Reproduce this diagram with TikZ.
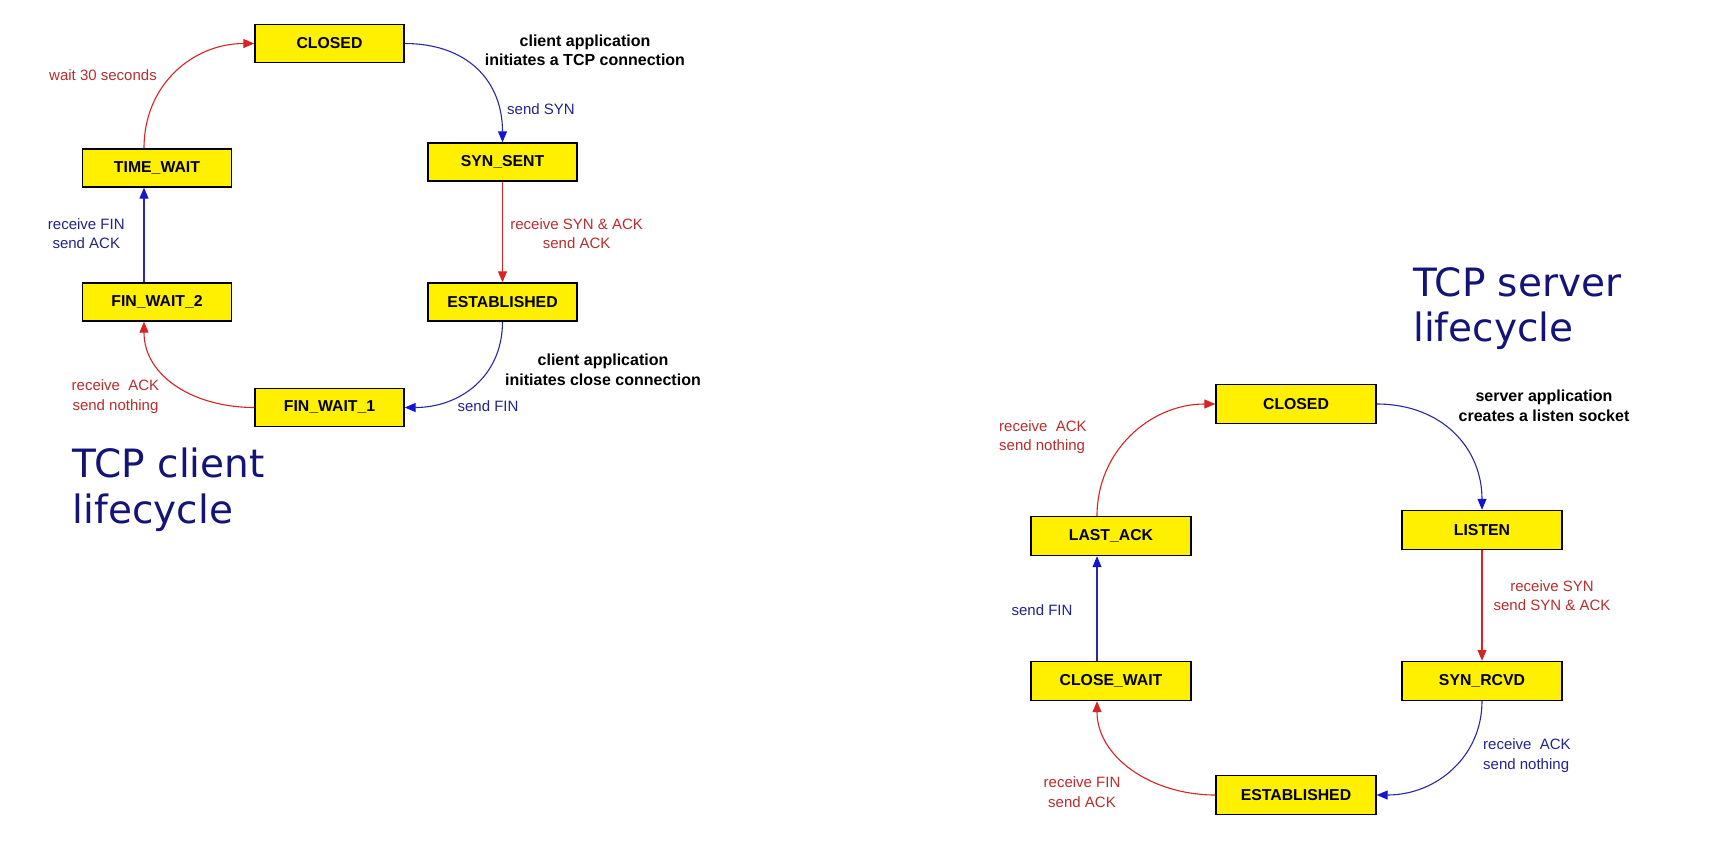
\documentclass[tikz,border=0pt]{standalone}
\usepackage{fontspec}
\setmainfont{Liberation Sans}
\newfontfamily\titlefont{DejaVu Sans}
\usetikzlibrary{arrows.meta,calc}

\definecolor{stateyellow}{RGB}{255,240,0}
\definecolor{arrowred}{RGB}{215,35,35}
\definecolor{arrowblue}{RGB}{40,40,165}
\definecolor{tipblue}{RGB}{20,20,210}
\definecolor{labelred}{RGB}{185,45,45}
\definecolor{labelblue}{RGB}{35,35,140}
\definecolor{titleblue}{RGB}{20,20,120}

\tikzset{
  state/.style={draw=black, line width=1.4pt, fill=stateyellow,
    minimum width=149pt, minimum height=38pt, inner sep=0pt,
    font=\fontsize{15.8}{18}\selectfont\bfseries},
  sstate/.style={state, minimum width=160pt, minimum height=39pt},
  redarrow/.style={draw=arrowred, line width=1.1pt,
    -{Triangle[length=11pt,width=9pt,color=arrowred]}},
  bluearrow/.style={draw=arrowblue, line width=1.1pt,
    -{Triangle[length=11pt,width=9pt,color=tipblue]}},
  lbl/.style={font=\fontsize{15}{19.5}\selectfont, align=center, inner sep=0pt},
  redlbl/.style={lbl, text=labelred},
  bluelbl/.style={lbl, text=labelblue},
  note/.style={font=\fontsize{16}{19.7}\selectfont\bfseries, align=center,
    inner sep=0pt, text=black},
  heading/.style={font=\titlefont\fontsize{39}{45}\selectfont, text=titleblue,
    inner sep=0pt, anchor=base west}
}

\begin{document}
\begin{tikzpicture}[x=1pt,y=-1pt]
\useasboundingbox[fill=white] (0,0) rectangle (1717,841);

% ---------------- TCP client ----------------
\node[state] (c-closed)  at (329.5,43.5) {CLOSED};
\node[state] (c-synsent) at (502.5,162)  {SYN\_SENT};
\node[state] (c-est)     at (502.5,302)  {ESTABLISHED};
\node[state] (c-fw1)     at (329.5,407.5){FIN\_WAIT\_1};
\node[state] (c-fw2)     at (157,302)    {FIN\_WAIT\_2};
\node[state] (c-tw)      at (157,168)    {TIME\_WAIT};

\coordinate (c-fw2-top) at ($(c-fw2.north)+(-13,0)$);
\coordinate (c-fw2-bot) at ($(c-fw2.south)+(-13,0)$);
\coordinate (c-tw-top)  at ($(c-tw.north)+(-13,0)$);
\coordinate (c-tw-bot)  at ($(c-tw.south)+(-13,0)$);

\draw[bluearrow] (c-closed.east) .. controls +(62,0) and +(0,-62) .. (c-synsent.north);
\draw[redarrow]  (c-synsent.south) -- (c-est.north);
\draw[bluearrow] (c-est.south) .. controls +(0,55) and +(55,0) .. (c-fw1.east);
\draw[redarrow]  (c-fw1.west) .. controls +(-60,0) and +(0,55) .. (c-fw2-bot);
\draw[bluearrow] (c-fw2-top) -- (c-tw-bot);
\draw[redarrow]  (c-tw-top) .. controls +(0,-65) and +(-60,0) .. (c-closed.west);

\node[note] (c-note1) at (585,50.4) {client application\\initiates a TCP connection};
\node[note] (c-note2) at (603,369.6) {client application\\initiates close connection};

\node[redlbl]  (c-l1) at (103,75.6) {wait 30 seconds};
\node[bluelbl, anchor=west] (c-l2) at (507,109.5) {send SYN};
\node[redlbl]  (c-l3) at (576.6,233.8) {receive SYN \& ACK\\send ACK};
\node[bluelbl] (c-l4) at (86.3,233.8) {receive FIN\\send ACK};
\node[redlbl]  (c-l5) at (115.5,396.5) {receive\ \ ACK\\send nothing};
\node[bluelbl] (c-l6) at (488,406.3) {send FIN};

\node[heading] (c-title1) at (72.7,477.7) {TCP client};
\node[heading] (c-title2) at (72.7,523.3) {lifecycle};

% ---------------- TCP server ----------------
\node[sstate] (s-closed) at (1296,404) {CLOSED};
\node[sstate] (s-listen) at (1482,530) {LISTEN};
\node[sstate] (s-synrcvd) at (1482,681) {SYN\_RCVD};
\node[sstate] (s-est)    at (1296,795) {ESTABLISHED};
\node[sstate] (s-cw)     at (1111,681) {CLOSE\_WAIT};
\node[sstate] (s-la)     at (1111,536) {LAST\_ACK};

\coordinate (s-cw-top) at ($(s-cw.north)+(-14,0)$);
\coordinate (s-cw-bot) at ($(s-cw.south)+(-14,0)$);
\coordinate (s-la-top) at ($(s-la.north)+(-14,0)$);
\coordinate (s-la-bot) at ($(s-la.south)+(-14,0)$);

\draw[bluearrow] (s-closed.east) .. controls +(65,0) and +(0,-62) .. (s-listen.north);
\draw[redarrow]  (s-listen.south) -- (s-synrcvd.north);
\draw[bluearrow] (s-synrcvd.south) .. controls +(0,55) and +(60,0) .. (s-est.east);
\draw[redarrow]  (s-est.west) .. controls +(-65,0) and +(0,55) .. (s-cw-bot);
\draw[bluearrow] (s-cw-top) -- (s-la-bot);
\draw[redarrow]  (s-la-top) .. controls +(0,-65) and +(-65,0) .. (s-closed.west);

\node[note] (s-note) at (1544,405.5) {server application\\creates a listen socket};

\node[redlbl, align=left, anchor=west] (s-l1) at (999,437) {receive\ \ ACK\\send nothing};
\node[bluelbl] (s-l2) at (1042,610) {send FIN};
\node[redlbl]  (s-l3) at (1552,595.7) {receive SYN\\send SYN \& ACK};
\node[bluelbl, align=left, anchor=west] (s-l4) at (1483,755.6) {receive\ \ ACK\\send nothing};
\node[redlbl]  (s-l5) at (1082,792.3) {receive FIN\\send ACK};

\node[heading] (s-title1) at (1413,296) {TCP server};
\node[heading] (s-title2) at (1413,341) {lifecycle};
\end{tikzpicture}
\end{document}
